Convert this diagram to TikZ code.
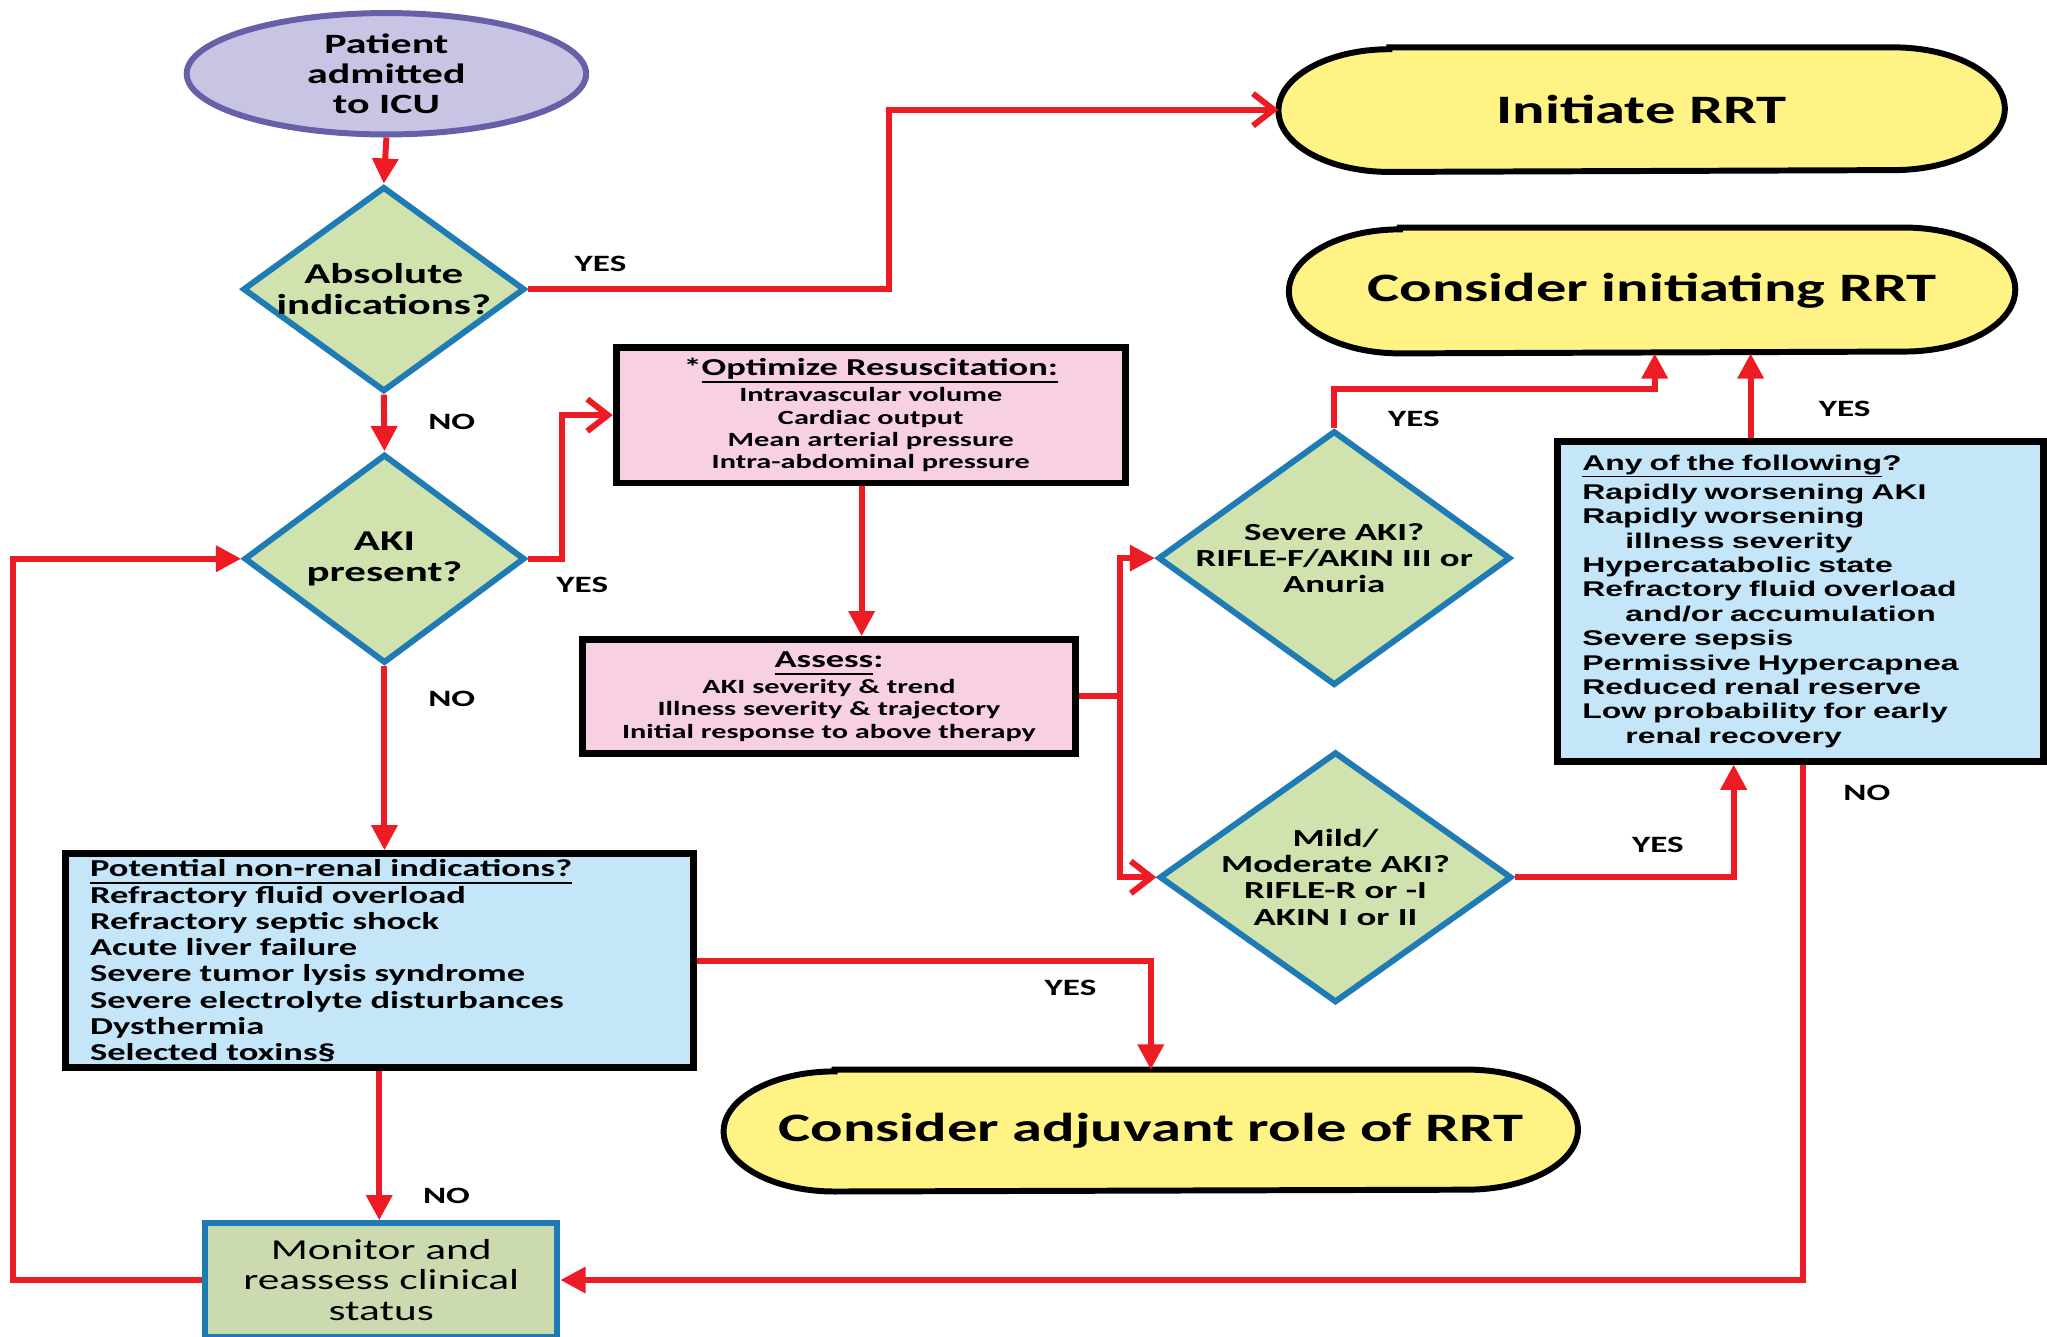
\documentclass[tikz,border=0pt]{standalone}
\usepackage{fontspec}
\usetikzlibrary{shapes.geometric,arrows.meta,backgrounds}
\newfontfamily\fC[FakeStretch=1.5]{Carlito}
\newfontfamily\fA[FakeStretch=1.5]{Liberation Sans}
\newdimen\px \px=0.1mm
\newcommand\myul[1]{\vphantom{#1}$\underline{\smash{\hbox{#1}}}$}
\definecolor{redL}{HTML}{ED1C24}
\definecolor{ellF}{HTML}{C8C4E4}
\definecolor{ellB}{HTML}{6560A8}
\definecolor{diaF}{HTML}{D0E3AE}
\definecolor{diaB}{HTML}{1F7BB4}
\definecolor{pinkF}{HTML}{F8D0E4}
\definecolor{blueF}{HTML}{C4E6F8}
\definecolor{yelF}{HTML}{FFF385}
\definecolor{monF}{HTML}{CCDAAF}
\newcommand\drawstadium[3]{%
  \begin{scope}[on background layer]
  \draw[stadline] ([xshift=#2]#1.north west) -- ([xshift=-#2]#1.north east)
    arc[start angle=90,end angle=-90,x radius=#2,y radius=#3]
    -- ([xshift=#2]#1.south west)
    arc[start angle=270,end angle=90,x radius=#2,y radius=#3] -- cycle;
  \end{scope}}
\tikzset{
  ell/.style={ellipse,draw=ellB,fill=ellF,line width=1.3pt,inner sep=0pt,align=center,
    font={\fC\bfseries\fontsize{6.1pt}{6.55pt}\selectfont}},
  diam/.style={diamond,draw=diaB,fill=diaF,line width=1.3pt,inner sep=0pt},
  dtxt/.style={align=center,inner sep=0pt,font={\fC\bfseries\fontsize{6.25pt}{6.8pt}\selectfont}},
  stxt/.style={align=center,inner sep=0pt,font={\fC\bfseries\fontsize{5.35pt}{5.7pt}\selectfont}},
  pinkbox/.style={rectangle,draw=black,fill=pinkF,line width=1.5pt,inner sep=0pt,align=center,
    font={\fC\bfseries\fontsize{4.4pt}{4.85pt}\selectfont}},
  bluebox/.style={rectangle,draw=black,fill=blueF,line width=1.5pt,inner ysep=0pt,inner xsep=19\px,align=left},
  stadtxt/.style={rectangle,draw=none,inner sep=0pt,align=center,
    font={\fC\bfseries\fontsize{8.8pt}{9.5pt}\selectfont}},
  stadline/.style={draw=black,fill=yelF,line width=1.3pt},
  monbox/.style={rectangle,draw=diaB,fill=monF,line width=1.3pt,inner sep=0pt,align=center,
    font={\fC\fontsize{6.3pt}{6.7pt}\selectfont}},
  lab/.style={inner sep=0pt,font={\fC\bfseries\fontsize{5.1pt}{5.5pt}\selectfont}},
  conn/.style={draw=redL,line width=1.3pt},
  arrF/.style={conn,-{Triangle[length=5.5pt,width=5.5pt]}},
  arrO/.style={conn,-{Straight Barb[length=4.5pt,width=7pt]}}
}
\begin{document}
\begin{tikzpicture}[x=0.1mm,y=-0.1mm]
\useasboundingbox (0,0) rectangle (1568,1024);
\begin{scope}[on background layer]
\fill[white] (0,0) rectangle (1568,1024);
\end{scope}

% nodes
\node[ell,minimum width=306\px,minimum height=93\px] (pat) at (296,56.5) {Patient\\admitted\\to ICU};
\node[diam,minimum width=216\px,minimum height=157\px,
  label={[dtxt]center:Absolute\\indications?}] (d1) at (294,221.5) {};
\node[diam,minimum width=215\px,minimum height=160\px,
  label={[dtxt]center:AKI\\present?}] (d2) at (294.5,428) {};
\node[pinkbox,minimum width=390\px,minimum height=104\px] (opt) at (667,318)
  {{\fontsize{5.3pt}{5.5pt}\selectfont *\myul{Optimize Resuscitation:}}\\[-0.4pt]Intravascular volume\\Cardiac output\\Mean arterial pressure\\Intra-abdominal pressure};
\node[pinkbox,minimum width=378\px,minimum height=87\px] (assess) at (635,533.5)
  {{\fontsize{5.3pt}{5.5pt}\selectfont\myul{Assess}:}\\[-0.4pt]AKI severity \& trend\\Illness severity \& trajectory\\Initial response to above therapy};
\node[bluebox,text width=443\px,minimum height=164\px,
  font={\fC\bfseries\fontsize{5.3pt}{5.72pt}\selectfont}] (pot) at (290.5,736)
  {\myul{Potential non-renal indications?}\\Refractory fluid overload\\Refractory septic shock\\Acute liver failure\\Severe tumor lysis syndrome\\Severe electrolyte disturbances\\Dysthermia\\Selected toxins§};
\node[bluebox,text width=334\px,minimum height=245\px,
  font={\fA\bfseries\fontsize{4.64pt}{5.32pt}\selectfont}] (any) at (1379,460.5)
  {\myul{Any of the following}?\\Rapidly worsening AKI\\Rapidly worsening\\\hspace*{33\px}illness severity\\Hypercatabolic state\\Refractory fluid overload\\\hspace*{33\px}and/or accumulation\\Severe sepsis\\Permissive Hypercapnea\\Reduced renal reserve\\Low probability for early\\\hspace*{33\px}renal recovery};
\node[diam,minimum width=270\px,minimum height=195\px,
  label={[stxt]center:Severe AKI?\\RIFLE-F/AKIN III or\\Anuria}] (sev) at (1022,427.5) {};
\node[diam,minimum width=270\px,minimum height=192\px,
  label={[stxt]center:Mild/\\Moderate AKI?\\RIFLE-R or -I\\AKIN I or II}] (mild) at (1023,672) {};
\node[monbox,minimum width=270\px,minimum height=87\px] (mon) at (292,980.5) {Monitor and\\reassess clinical\\status};
\node[stadtxt,minimum width=555\px,minimum height=94\px] (init) at (1257.5,84) {Initiate RRT};
\node[stadtxt,minimum width=555\px,minimum height=95\px] (cons) at (1265.5,222.5) {Consider initiating RRT};
\node[stadtxt,minimum width=653\px,minimum height=92\px] (adj) at (881.5,866) {Consider adjuvant role of RRT};
\drawstadium{init}{85\px}{47\px}
\drawstadium{cons}{85\px}{47.5\px}
\drawstadium{adj}{85\px}{46\px}

% labels
\node[lab] (y1) at (460,202) {YES};
\node[lab] (n1) at (346,323) {NO};
\node[lab] (y2) at (446,448) {YES};
\node[lab] (n2) at (346,535) {NO};
\node[lab] (y3) at (820,757) {YES};
\node[lab] (n3) at (342,916) {NO};
\node[lab] (y4) at (1083,321) {YES};
\node[lab] (y5) at (1413,313) {YES};
\node[lab] (y6) at (1270,647) {YES};
\node[lab] (n4) at (1430,607) {NO};

% connectors
\draw[arrF] (pat.south) -- (d1.north);
\draw[arrO] (d1.east) -- ++(277,0) |- (init.west);
\draw[arrF] (d1.south) -- (d2.north);
\draw[arrO] (d2.east) -- ++(26,0) |- (opt.west);
\draw[arrF] ([xshift=-7\px]opt.south) -- ([xshift=-7\px]opt.south |- assess.north);
\draw[conn] (assess.east) -- ++(31,0) coordinate (split);
\draw[arrF] (split) |- (sev.west);
\draw[arrO] (split) |- (mild.west);
\draw[arrF] (sev.north) -- ++(0,-30) -| ([xshift=2\px]cons.south);
\draw[arrF] ([xshift=-38\px]any.north) -- ([xshift=-38\px]any.north |- cons.south);
\draw[arrF] (mild.east) -| ([xshift=-51\px]any.south);
\draw[arrF] ([xshift=2\px]any.south) |- (mon.east);
\draw[arrF] (d2.south) -- (d2.south |- pot.north);
\draw[arrF] (pot.east) -| (adj.north);
\draw[arrF] (pot.south) -- (pot.south |- mon.north);
\draw[arrF] (mon.west) -- ++(-145,0) |- (d2.west);
\end{tikzpicture}
\end{document}
